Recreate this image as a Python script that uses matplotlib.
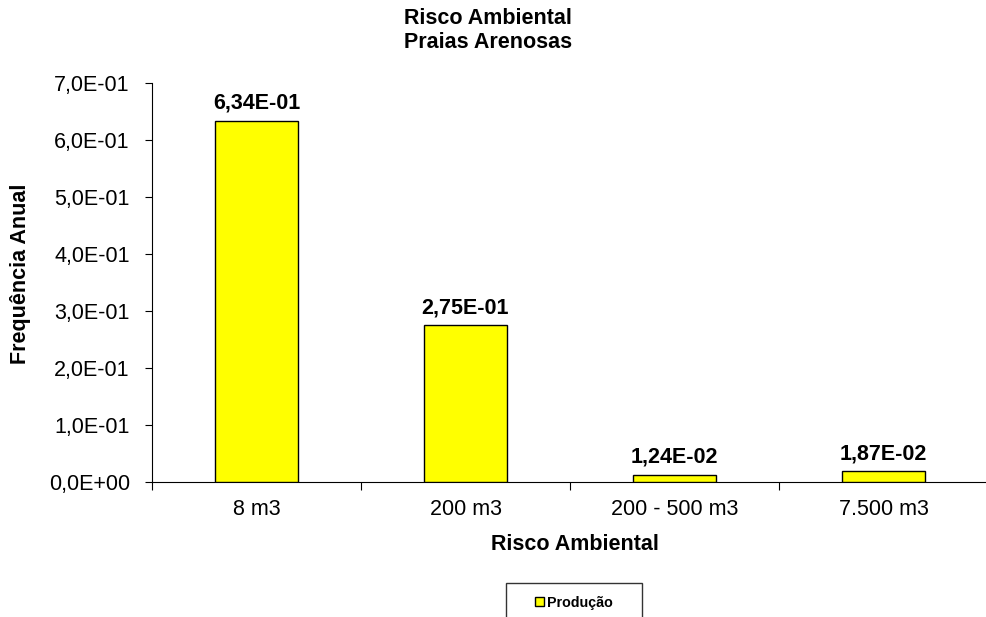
import matplotlib
matplotlib.use("Agg")
import numpy as np
from matplotlib import pyplot as plt
from matplotlib.ticker import FuncFormatter, FixedLocator

plt.rcParams['font.family'] = ['Liberation Sans', 'DejaVu Sans']

# dados
categorias = ["8 m3", "200 m3", "200 - 500 m3", "7.500 m3"]
producao = [6.34e-01, 2.75e-01, 1.24e-02, 1.87e-02]
rotulos = ["6,34E-01", "2,75E-01", "1,24E-02", "1,87E-02"]
yticks = [0.0, 0.1, 0.2, 0.3, 0.4, 0.5, 0.6, 0.7]

W, H = 986, 617
fig = plt.figure(figsize=(W/100, H/100), dpi=100)
ax = fig.add_axes([152/W, 1 - 482/H, (988-152)/W, (482-83)/H])

x = np.arange(len(categorias))
ax.bar(x, producao, width=0.4, color="#FFFF00", edgecolor="black", linewidth=1.0,
       label="Produção", zorder=3)

for xi, v, t in zip(x, producao, rotulos):
    ax.annotate(t, (xi, v), xytext=(0, 5), textcoords="offset points",
                ha="center", va="bottom", fontsize=15.5, fontweight="bold")

ax.set_xlim(-0.5, len(categorias) - 0.5)
ax.set_ylim(0, 0.7)
ax.set_yticks(yticks)
ax.yaxis.set_major_formatter(FuncFormatter(lambda v, p: ("%.1E" % v).replace(".", ",")))
ax.tick_params(axis="y", labelsize=15.5, length=5, direction="out", pad=11)

# ticks do eixo x nos limites das categorias
ax.xaxis.set_major_locator(FixedLocator(np.arange(-0.5, len(categorias), 1.0)))
ax.xaxis.set_major_formatter(FuncFormatter(lambda v, p: ""))
ax.xaxis.set_minor_locator(FixedLocator(x))
ax.set_xticklabels(categorias, minor=True)
ax.tick_params(axis="x", which="major", length=6, direction="out")
ax.tick_params(axis="x", which="minor", length=0, labelsize=15.5, pad=12)

for s in ["top", "right"]:
    ax.spines[s].set_visible(False)

# títulos e rótulos dos eixos
fig.text(488/W, 1 - 24/H, "Risco Ambiental", ha="center", va="baseline",
         fontsize=15.5, fontweight="bold")
fig.text(488/W, 1 - 48/H, "Praias Arenosas", ha="center", va="baseline",
         fontsize=15.5, fontweight="bold")
fig.text(21/W, 1 - 274/H, "Frequência Anual", ha="center", va="center",
         rotation=90, fontsize=15.5, fontweight="bold")
fig.text(575/W, 1 - 545/H, "Risco Ambiental", ha="center", va="center",
         fontsize=15.5, fontweight="bold")

leg = ax.legend(loc="center", bbox_to_anchor=(574/W, 1 - 603/H),
                bbox_transform=fig.transFigure, fontsize=10.3, frameon=True,
                fancybox=False, edgecolor="black", handlelength=0.6, handleheight=0.6,
                handletextpad=0.2, borderpad=0.9, borderaxespad=0)
for t in leg.get_texts():
    t.set_fontweight("bold")
leg.get_frame().set_linewidth(1.0)
leg._legend_box.set_width(110)

fig.savefig("out.png", dpi=100)
